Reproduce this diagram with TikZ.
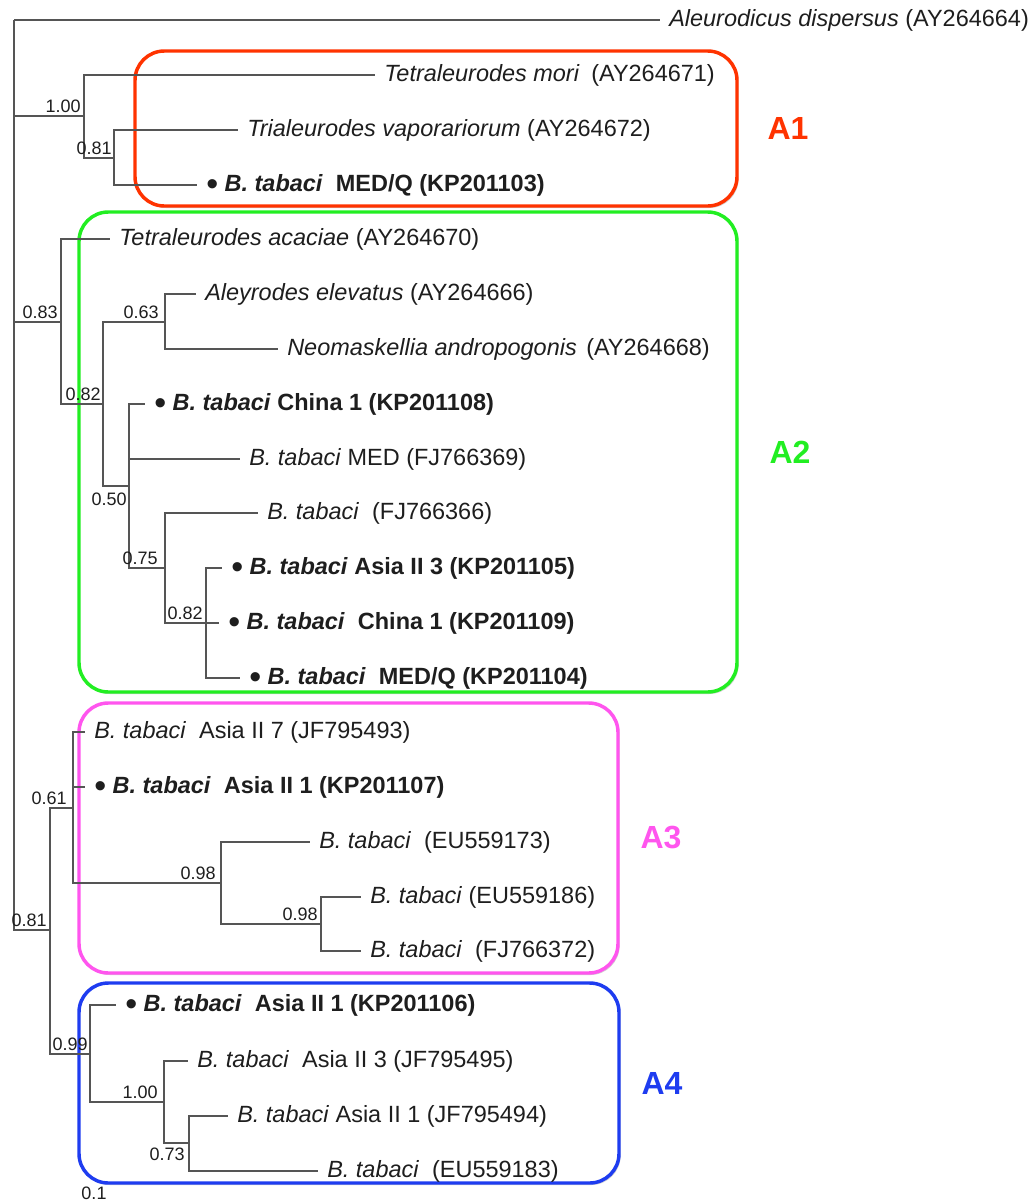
\documentclass[tikz,border=0pt]{standalone}
\usepackage{fontspec}
\setmainfont{Liberation Sans}
\usetikzlibrary{shadows}
\definecolor{txt}{HTML}{1E1E1E}
\definecolor{branch}{HTML}{555555}
\definecolor{cA}{HTML}{FF3300}
\definecolor{cB}{HTML}{22EE22}
\definecolor{cC}{HTML}{FF55EE}
\definecolor{cD}{HTML}{1E3CF0}
\newcommand{\leaffont}{\fontsize{17.6}{20}\selectfont}
\newcommand{\bsfont}{\fontsize{13.5}{16}\selectfont}
\newcommand{\grpfont}{\fontsize{24}{28}\selectfont\bfseries}
\newcommand{\Bt}{\textit{B. tabaci}}
\newcommand{\dotmark}{\raisebox{-0.32ex}{\scalebox{1.45}{\textbullet}}}
\begin{document}
\begin{tikzpicture}[x=0.75pt,y=-0.75pt,
  leaf/.style={anchor=west,inner xsep=6.75pt,inner ysep=0pt,font=\leaffont,text=txt},
  bs/.style={inner sep=0pt,font=\bsfont,text=txt},
  br/.style={draw=branch,line width=1.05pt},
  grp/.style={rounded corners=22pt,line width=2.6pt,fill=white,
    drop shadow={shadow xshift=1.2pt,shadow yshift=-1.5pt,opacity=0.18,fill=black}},
  grplab/.style={font=\grpfont,inner sep=0pt}]
\useasboundingbox (0,0) rectangle (1031,1203);
% group boxes
\draw[grp,draw=cA] (135,51) rectangle (737,206);
\draw[grp,draw=cB] (79,212) rectangle (737,692);
\draw[grp,draw=cC] (79,703) rectangle (618,973);
\draw[grp,draw=cD] (79,983) rectangle (619,1183);
\node[grplab,text=cA] (gA1) at (788,128) {A1};
\node[grplab,text=cB] (gA2) at (790,452) {A2};
\node[grplab,text=cC] (gA3) at (661,837) {A3};
\node[grplab,text=cD] (gA4) at (662,1083) {A4};
% internal nodes
\coordinate (root) at (14,20);
\coordinate (nA1) at (84,116);
\coordinate (n081a) at (114,158);
\coordinate (n083) at (61,322);
\coordinate (n082a) at (103,404);
\coordinate (n063) at (165,322);
\coordinate (n050) at (129,486);
\coordinate (n075) at (165,568);
\coordinate (n082b) at (206,623);
\coordinate (n081b) at (50,930);
\coordinate (n061) at (73,808);
\coordinate (n098a) at (221,883);
\coordinate (n098b) at (321,924);
\coordinate (n099) at (90,1054);
\coordinate (n100b) at (164,1102);
\coordinate (n073) at (189,1143);
% leaves
\node[leaf] (AY264664) at (660,20) {\textit{Aleurodicus dispersus} (AY264664)};
\node[leaf] (AY264671) at (375,75) {\textit{Tetraleurodes mori}\hspace{0.5em}(AY264671)};
\node[leaf] (AY264672) at (238,130) {\textit{Trialeurodes vaporariorum} (AY264672)};
\node[leaf] (KP201103) at (197,185) {\dotmark\ \textbf{\Bt\ \ MED/Q (KP201103)}};
\node[leaf] (AY264670) at (110,239) {\textit{Tetraleurodes acaciae} (AY264670)};
\node[leaf] (AY264666) at (196,294) {\textit{Aleyrodes elevatus} (AY264666)};
\node[leaf] (AY264668) at (278,349) {\textit{Neomaskellia andropogonis}\hspace{0.4em}(AY264668)};
\node[leaf] (KP201108) at (145,404) {\dotmark\ \textbf{\Bt\ China 1 (KP201108)}};
\node[leaf] (FJ766369) at (240,459) {\Bt\ MED (FJ766369)};
\node[leaf] (FJ766366) at (258,513) {\Bt\ \ (FJ766366)};
\node[leaf] (KP201105) at (222,568) {\dotmark\ \textbf{\Bt\ Asia II 3 (KP201105)}};
\node[leaf] (KP201109) at (219,623) {\dotmark\ \textbf{\Bt\ \ China 1 (KP201109)}};
\node[leaf] (KP201104) at (240,678) {\dotmark\ \textbf{\Bt\ \ MED/Q (KP201104)}};
\node[leaf] (JF795493) at (85,732) {\Bt\ \ Asia II 7 (JF795493)};
\node[leaf] (KP201107) at (85,787) {\dotmark\ \textbf{\Bt\ \ Asia II 1 (KP201107)}};
\node[leaf] (EU559173) at (310,842) {\Bt\ \ (EU559173)};
\node[leaf] (EU559186) at (361,897) {\Bt\ (EU559186)};
\node[leaf] (FJ766372) at (361,951) {\Bt\ \ (FJ766372)};
\node[leaf] (KP201106) at (116,1005) {\dotmark\ \textbf{\Bt\ \ Asia II 1 (KP201106)}};
\node[leaf] (JF795495) at (188,1061) {\Bt\ \ Asia II 3 (JF795495)};
\node[leaf] (JF795494) at (228,1116) {\Bt\ Asia II 1 (JF795494)};
\node[leaf] (EU559183) at (318,1171) {\Bt\ \ (EU559183)};
% branches
\draw[br] (root) -- (AY264664.west);
\draw[br] (root) |- (nA1);
\draw[br] (root) |- (n083);
\draw[br] (root) |- (n081b);
\draw[br] (nA1) |- (AY264671.west);
\draw[br] (nA1) |- (n081a);
\draw[br] (n081a) |- (AY264672.west);
\draw[br] (n081a) |- (KP201103.west);
\draw[br] (n083) |- (AY264670.west);
\draw[br] (n083) |- (n082a);
\draw[br] (n082a) |- (n063);
\draw[br] (n082a) |- (n050);
\draw[br] (n063) |- (AY264666.west);
\draw[br] (n063) |- (AY264668.west);
\draw[br] (n050) |- (KP201108.west);
\draw[br] (n050) |- (FJ766369.west);
\draw[br] (n050) |- (n075);
\draw[br] (n075) |- (FJ766366.west);
\draw[br] (n075) |- (n082b);
\draw[br] (n082b) |- (KP201105.west);
\draw[br] (n082b) |- (KP201109.west);
\draw[br] (n082b) |- (KP201104.west);
\draw[br] (n081b) |- (n061);
\draw[br] (n081b) |- (n099);
\draw[br] (n061) |- (JF795493.west);
\draw[br] (n061) |- (KP201107.west);
\draw[br] (n061) |- (n098a);
\draw[br] (n098a) |- (EU559173.west);
\draw[br] (n098a) |- (n098b);
\draw[br] (n098b) |- (EU559186.west);
\draw[br] (n098b) |- (FJ766372.west);
\draw[br] (n099) |- (KP201106.west);
\draw[br] (n099) |- (n100b);
\draw[br] (n100b) |- (JF795495.west);
\draw[br] (n100b) |- (n073);
\draw[br] (n073) |- (JF795494.west);
\draw[br] (n073) |- (EU559183.west);
% support values
\node[bs,anchor=south east] (bA1) at (81,113) {1.00};
\node[bs,anchor=south east] (b081a) at (112,155) {0.81};
\node[bs,anchor=south east] (b083) at (58,319) {0.83};
\node[bs,anchor=south east] (b063) at (159,319) {0.63};
\node[bs,anchor=south east] (b082a) at (101,401) {0.82};
\node[bs,anchor=north east] (b050) at (127,493) {0.50};
\node[bs,anchor=south east] (b075) at (158,565) {0.75};
\node[bs,anchor=south east] (b082b) at (203,620) {0.82};
\node[bs,anchor=south east] (b061) at (67,805) {0.61};
\node[bs,anchor=south east] (b098a) at (216,880) {0.98};
\node[bs,anchor=south east] (b098b) at (318,921) {0.98};
\node[bs,anchor=south east] (b081b) at (47,927) {0.81};
\node[bs,anchor=south east] (b099) at (88,1051) {0.99};
\node[bs,anchor=south east] (b100b) at (158,1099) {1.00};
\node[bs,anchor=north east] (b073) at (185,1148) {0.73};
\node[bs] (scale) at (94,1193) {0.1};
\end{tikzpicture}
\end{document}
